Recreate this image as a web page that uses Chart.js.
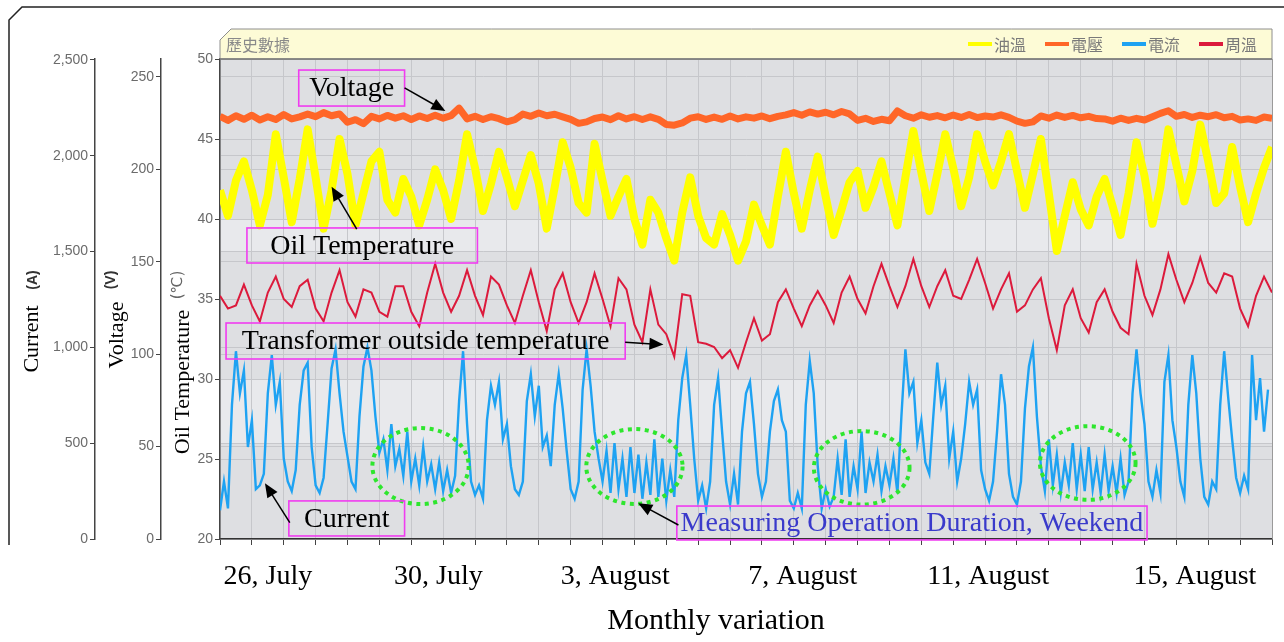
<!DOCTYPE html>
<html><head><meta charset="utf-8">
<script src="https://cdn.jsdelivr.net/npm/chart.js@4.4.1/dist/chart.umd.min.js"></script>
<style>html,body{margin:0;padding:0;background:#fff;}</style>
</head><body>
<canvas id="c" width="1284" height="642"></canvas>
<script>
// ---------------- data ----------------
const seriesNames = ['油溫', '電壓', '電流', '周溫'];
const tempStep = 0.25;      // x spacing of temperature / voltage samples (grid divisions)
const currentStep = 0.125;  // x spacing of current samples
const oilTemp = [
 41.8,40.2,42.4,43.6,41.8,39.6,41.5,45.3,42.6,39.8,
 42.5,45.6,42.6,39.4,41.8,45.0,42.8,39.6,41.6,43.6,
 44.2,41.2,40.4,42.5,41.4,39.6,41.2,43.1,41.8,40.0,
 42.4,45.3,43.2,40.5,42.2,44.2,42.6,40.8,42.4,44.0,
 42.2,39.4,42.0,44.8,43.2,41.0,40.4,44.7,42.4,40.2,
 41.4,42.5,40.0,38.4,41.2,40.4,38.8,37.4,40.4,42.6,
 40.2,38.8,38.4,40.3,39.0,37.4,38.6,40.9,39.6,38.4,
 41.4,44.2,41.6,39.4,41.8,43.9,41.4,39.0,40.6,42.3,
 43.0,40.7,42.0,43.6,41.6,39.6,42.6,45.5,42.9,40.5,
 42.8,45.3,43.2,40.8,42.6,45.3,43.6,42.1,43.6,45.3,
 43.0,40.7,42.8,45.0,41.6,38.0,40.2,42.3,40.6,39.6,
 41.4,42.5,40.8,39.0,41.6,44.8,42.7,39.7,42.0,45.6,
 43.4,41.1,43.0,45.9,43.6,41.0,41.6,44.5,42.0,39.8,
 41.6,43.2,44.5
];
const ambientTemp = [
 35.2,34.4,34.6,35.9,34.6,33.6,35.4,36.4,35.0,34.5,
 35.8,36.2,34.4,33.6,35.4,36.8,34.8,33.9,35.6,35.4,
 34.2,33.9,35.8,35.8,34.2,33.3,35.4,37.2,35.4,34.2,
 35.2,36.8,35.2,34.0,36.4,35.9,34.6,33.5,35.2,36.8,
 34.8,33.0,35.6,36.6,34.8,33.5,34.8,36.6,35.0,33.3,
 36.3,35.6,33.4,32.3,35.6,33.4,32.8,31.4,35.3,35.2,
 32.3,32.2,32.0,31.3,31.8,30.7,32.3,33.8,32.4,32.8,
 34.8,35.6,34.4,33.3,34.6,35.5,34.6,33.5,35.4,36.4,
 35.0,34.1,35.8,37.2,35.8,34.5,35.8,37.5,35.8,34.5,
 35.8,36.8,35.2,35.0,36.2,37.5,36.0,34.4,35.6,36.6,
 34.2,34.6,35.6,36.3,33.8,31.8,34.6,35.6,33.8,32.9,
 34.8,35.6,34.2,33.2,32.8,37.2,35.2,34.0,35.6,37.8,
 36.2,34.8,36.0,37.6,36.0,35.4,36.6,36.4,34.4,33.3,
 35.2,36.4,35.4
];
const voltage = [
 228.6,226.4,228.9,227.0,229.2,226.6,228.4,226.9,229.6,227.2,
 228.3,229.8,228.4,230.6,228.9,229.9,225.4,226.8,224.6,228.6,
 227.2,229.1,227.6,228.9,226.9,228.8,227.4,229.2,227.6,229.0,
 233.0,227.2,228.6,226.9,228.4,227.3,225.6,226.8,229.8,228.6,
 230.4,228.9,229.7,228.3,227.0,224.8,225.6,227.4,228.2,226.8,
 228.9,227.2,228.4,226.9,228.3,227.0,224.2,223.8,225.0,227.6,
 228.4,226.9,228.2,227.0,228.8,227.2,228.3,227.6,228.8,227.3,
 228.6,229.4,230.6,229.2,231.0,229.8,230.8,229.4,231.2,229.9,
 226.4,227.5,225.8,227.0,226.2,231.5,228.9,227.6,229.4,228.1,
 229.0,227.8,229.3,228.0,229.6,227.9,228.8,228.2,229.4,228.0,
 226.0,224.8,225.6,228.8,227.6,229.3,228.0,229.1,227.8,228.6,
 227.4,227.2,226.0,227.6,226.4,227.5,226.6,228.4,230.2,231.6,
 228.6,229.6,228.0,229.2,228.4,229.5,227.8,228.6,226.6,227.2,
 226.4,228.2,227.6
];
const current = [
 150,300,160,700,980,760,880,480,620,260,
 280,340,760,960,700,820,420,300,250,360,
 700,880,920,480,280,240,320,600,890,990,
 760,560,430,300,260,640,900,1000,880,640,
 450,520,360,600,380,470,330,560,300,420,
 280,480,300,390,260,400,250,360,240,330,
 720,980,600,300,230,280,210,620,800,700,
 820,520,600,380,260,230,300,720,860,640,
 800,480,540,380,700,860,680,460,260,210,
 300,780,990,800,560,420,300,460,240,500,
 260,420,220,480,240,440,210,400,230,520,
 220,420,200,360,220,620,840,960,700,420,
 200,280,160,300,700,840,560,300,180,340,
 180,560,760,820,600,340,220,300,560,720,
 780,620,560,200,160,240,160,700,930,760,
 380,160,260,170,220,420,230,520,220,380,
 260,560,240,400,300,440,250,380,280,420,
 240,640,990,760,820,500,620,400,340,640,
 920,700,800,420,560,300,420,600,820,700,
 780,360,260,200,300,560,860,700,340,220,
 180,300,680,900,1000,640,380,250,520,280,
 440,240,400,280,500,260,440,250,480,260,
 400,240,440,250,380,240,420,230,300,760,
 990,760,600,300,220,360,240,820,960,620,
 480,300,220,700,960,760,420,220,180,300,
 260,700,980,740,520,320,240,330,260,960,
 620,840,560,780
];
const xTickLabels = ['26, July', '30, July', '3, August', '7, August', '11, August', '15, August'];
const xTickPositions = [1.5, 6.85, 12.4, 18.28, 24.1, 30.58];
const tempTicks = [20, 25, 30, 35, 40, 45, 50];
const voltageTicks = [0, 50, 100, 150, 200, 250];
const currentTicks = [0, 500, 1000, 1500, 2000, 2500];
const xDivisions = 33;
const xTitle = 'Monthly variation';

// annotations in data units (x: grid divisions, y: oil-temperature axis)
const noteTexts = ['Voltage', 'Oil Temperature', 'Transformer outside temperature', 'Current', 'Measuring Operation Duration, Weekend'];
const noteBoxes = [[2.47,49.31,5.79,47.06],[0.845,39.44,8.075,37.25],[0.19,33.5,12.71,31.25],[2.16,22.38,5.79,20.19],[14.33,22.06,29.08,19.94]];
const noteArrows = [[5.79,48.19,7.07,46.75],[4.29,39.36,3.5,42.02],[12.71,32.3,13.91,32.15],[2.19,21.02,1.41,23.48],[14.38,20.875,13.12,22.23]];
const weekendEllipses = [[6.29,24.56,1.51,2.375],[13.0,24.53,1.51,2.34],[20.13,24.45,1.5,2.3],[27.22,24.75,1.5,2.3]];

// ---------------- chart ----------------
const colors = {oil:'#ffff00', volt:'#ff6628', cur:'#1ea2f2', amb:'#dc1a3c'};
const gridColor = '#c6c7cb';
const tickFont = {family:'Liberation Sans', size:14};

function fixedTicks(list){ return s => { s.ticks = list.map(v => ({value:v})); }; }

const decor = {
  id:'decor',
  beforeDraw(chart){
    const ctx = chart.ctx, ca = chart.chartArea, yT = chart.scales.yT;
    ctx.save();
    ctx.fillStyle = '#fff'; ctx.fillRect(0,0,chart.width,chart.height);
    ctx.strokeStyle = '#222'; ctx.lineWidth = 1.5;
    ctx.beginPath(); ctx.moveTo(9,545); ctx.lineTo(9,20); ctx.lineTo(22,7); ctx.lineTo(chart.width,7); ctx.stroke();
    ctx.fillStyle = '#dedfe2'; ctx.fillRect(ca.left, ca.top, ca.right-ca.left, ca.bottom-ca.top);
    ctx.fillStyle = '#e8e9ec';
    [[38,40],[26,30]].forEach(b => {
      const y1 = yT.getPixelForValue(b[1]), y2 = yT.getPixelForValue(b[0]);
      ctx.fillRect(ca.left, y1, ca.right-ca.left, y2-y1);
    });
    ctx.restore();
  },
  afterDatasetsDraw(chart){
    const ctx = chart.ctx, xs = chart.scales.x, ys = chart.scales.yT;
    ctx.save();
    ctx.strokeStyle = '#2ee62e'; ctx.lineWidth = 4; ctx.setLineDash([4,4.5]);
    weekendEllipses.forEach(e => {
      const cx = xs.getPixelForValue(e[0]), cy = ys.getPixelForValue(e[1]);
      const rx = Math.abs(xs.getPixelForValue(e[0]+e[2]) - cx), ry = Math.abs(ys.getPixelForValue(e[1]+e[3]) - cy);
      ctx.beginPath(); ctx.ellipse(cx, cy, rx, ry, 0, 0, Math.PI*2); ctx.stroke();
    });
    ctx.setLineDash([]);
    noteTexts.forEach((t,i) => {
      const b = noteBoxes[i];
      const x1 = xs.getPixelForValue(b[0]), y1 = ys.getPixelForValue(b[1]);
      const x2 = xs.getPixelForValue(b[2]), y2 = ys.getPixelForValue(b[3]);
      ctx.strokeStyle = '#f03cf0'; ctx.lineWidth = 1.6;
      ctx.strokeRect(x1, y1, x2-x1, y2-y1);
      ctx.fillStyle = i === 4 ? '#3a3acb' : '#000';
      ctx.font = '28px "Liberation Serif"'; ctx.textAlign = 'center'; ctx.textBaseline = 'middle';
      ctx.fillText(t, (x1+x2)/2, (y1+y2)/2 + 1);
      const a = noteArrows[i];
      const ax1 = xs.getPixelForValue(a[0]), ay1 = ys.getPixelForValue(a[1]);
      const ax2 = xs.getPixelForValue(a[2]), ay2 = ys.getPixelForValue(a[3]);
      const ang = Math.atan2(ay2-ay1, ax2-ax1), L = 14, W = 6;
      ctx.strokeStyle = '#000'; ctx.fillStyle = '#000'; ctx.lineWidth = 1.5;
      ctx.beginPath(); ctx.moveTo(ax1, ay1); ctx.lineTo(ax2 - L*0.8*Math.cos(ang), ay2 - L*0.8*Math.sin(ang)); ctx.stroke();
      ctx.beginPath(); ctx.moveTo(ax2, ay2);
      ctx.lineTo(ax2 - L*Math.cos(ang) + W*Math.sin(ang), ay2 - L*Math.sin(ang) - W*Math.cos(ang));
      ctx.lineTo(ax2 - L*Math.cos(ang) - W*Math.sin(ang), ay2 - L*Math.sin(ang) + W*Math.cos(ang));
      ctx.closePath(); ctx.fill();
    });
    ctx.restore();
  },
  afterDraw(chart){
    const ctx = chart.ctx, ca = chart.chartArea;
    ctx.save();
    ctx.strokeStyle = '#9a9a9a'; ctx.lineWidth = 1;
    ctx.beginPath(); ctx.moveTo(ca.right+0.5, ca.top); ctx.lineTo(ca.right+0.5, ca.bottom); ctx.stroke();
    // header bar
    const hTop = ca.top - 30;
    ctx.fillStyle = '#fdfbd6'; ctx.strokeStyle = '#8e8e8e'; ctx.lineWidth = 1;
    ctx.beginPath(); ctx.moveTo(ca.left, ca.top); ctx.lineTo(ca.left, hTop+11); ctx.lineTo(ca.left+11, hTop);
    ctx.lineTo(ca.right, hTop); ctx.lineTo(ca.right, ca.top); ctx.closePath(); ctx.fill(); ctx.stroke();
    ctx.strokeStyle = '#777'; ctx.lineWidth = 1.5;
    ctx.beginPath(); ctx.moveTo(ca.left, ca.top); ctx.lineTo(ca.right, ca.top); ctx.stroke();
    ctx.font = '16px "Noto Sans CJK TC"'; ctx.textBaseline = 'middle'; ctx.textAlign = 'left';
    ctx.fillStyle = '#8a8a8a'; ctx.fillText('歷史數據', ca.left + 6, hTop + 16);
    const ds = chart.data.datasets, itemW = 77; let lx = ca.right - 304;
    ds.forEach(d => {
      ctx.strokeStyle = d.borderColor; ctx.lineWidth = 4;
      ctx.beginPath(); ctx.moveTo(lx, hTop+15); ctx.lineTo(lx+24, hTop+15); ctx.stroke();
      ctx.fillStyle = '#7a7a7a'; ctx.fillText(d.label, lx + 26, hTop + 16);
      lx += itemW;
    });
    // x-axis title
    ctx.font = '30px "Liberation Serif"'; ctx.fillStyle = '#000'; ctx.textAlign = 'center'; ctx.textBaseline = 'middle';
    ctx.fillText(xTitle, 716, 621);
    // rotated y-axis titles
    const titles = [
      {scale:'yI', main:'Current', unit:'(A)', mainC:339, unitC:280, unitDx:-1, unitFont:'bold 14px "Liberation Sans"', unitColor:'#333'},
      {scale:'yV', main:'Voltage', unit:'(V)', mainC:335, unitC:280, unitDx:-8, unitFont:'bold 14px "Liberation Sans"', unitColor:'#333'},
      {scale:'yT', main:'Oil Temperature', unit:'(℃)', mainC:382, unitC:285, unitDx:-7, unitFont:'15px "DejaVu Sans"', unitColor:'#666'}
    ];
    titles.forEach(t => {
      const bx = chart.scales[t.scale].left + 28;
      ctx.save(); ctx.translate(bx, t.mainC); ctx.rotate(-Math.PI/2);
      ctx.font = '22px "Liberation Serif"'; ctx.fillStyle = '#000'; ctx.textAlign = 'center'; ctx.textBaseline = 'alphabetic';
      ctx.fillText(t.main, 0, 0); ctx.restore();
      ctx.save(); ctx.translate(bx + t.unitDx, t.unitC); ctx.rotate(-Math.PI/2);
      ctx.font = t.unitFont; ctx.fillStyle = t.unitColor; ctx.textAlign = 'center'; ctx.textBaseline = 'alphabetic';
      ctx.fillText(t.unit, 0, 0); ctx.restore();
    });
    ctx.restore();
  }
};

const yAxis = (min, max, weight, ticks, width) => ({
  type:'linear', position:'left', min, max, weight,
  afterBuildTicks: fixedTicks(ticks),
  afterFit: s => { s.width = width; },
  ticks:{color:'#6b6b6b', font:tickFont, padding:2},
  grid:{color:gridColor, tickColor:'#444', tickLength:5},
  border:{color:'#444', width:1.5}
});

new Chart(document.getElementById('c'), {
  type:'line',
  data:{ datasets:[
    {label:seriesNames[0], data:oilTemp.map((v,i)=>({x:i*tempStep, y:v})), yAxisID:'yT', xAxisID:'x',
     borderColor:colors.oil, borderWidth:8, borderJoinStyle:'round', pointRadius:0, tension:0},
    {label:seriesNames[1], data:voltage.map((v,i)=>({x:i*tempStep, y:v})), yAxisID:'yV', xAxisID:'x',
     borderColor:colors.volt, borderWidth:7, borderJoinStyle:'round', pointRadius:0, tension:0},
    {label:seriesNames[2], data:current.map((v,i)=>({x:i*currentStep, y:v})), yAxisID:'yI', xAxisID:'x',
     borderColor:colors.cur, borderWidth:2.4, pointRadius:0, tension:0},
    {label:seriesNames[3], data:ambientTemp.map((v,i)=>({x:i*tempStep, y:v})), yAxisID:'yT', xAxisID:'x',
     borderColor:colors.amb, borderWidth:2, pointRadius:0, tension:0}
  ]},
  options:{
    responsive:false, animation:false, devicePixelRatio:1,
    layout:{padding:{left:10, right:12, top:59, bottom:0}},
    plugins:{legend:{display:false}, tooltip:{enabled:false}},
    scales:{
      x:{type:'linear', position:'bottom', min:0, max:xDivisions, weight:1,
         afterBuildTicks: s => { const t=[]; for(let i=0;i<=xDivisions;i++) t.push({value:i}); s.ticks=t; },
         afterFit: s => { s.height = 8; },
         ticks:{display:false},
         grid:{color:gridColor, tickColor:'#444', tickLength:6},
         border:{color:'#333', width:1.5}},
      x2:{type:'linear', position:'bottom', min:0, max:xDivisions, weight:2,
         afterBuildTicks: fixedTicks(xTickPositions),
         afterFit: s => { s.height = 95; },
         grid:{display:false, drawTicks:false}, border:{display:false},
         ticks:{autoSkip:false, maxRotation:0, minRotation:0, padding:13, color:'#000',
                font:{family:'Liberation Serif', size:28}, callback:(v,i)=>xTickLabels[i]},
         title:{display:false}},
      yT: yAxis(20, 50, 1, tempTicks, 59),
      yV: yAxis(0, 259.6, 2, voltageTicks, 66),
      yI: yAxis(0, 2505, 3, currentTicks, 85)
    }
  },
  plugins:[decor]
});
</script>
</body></html>
